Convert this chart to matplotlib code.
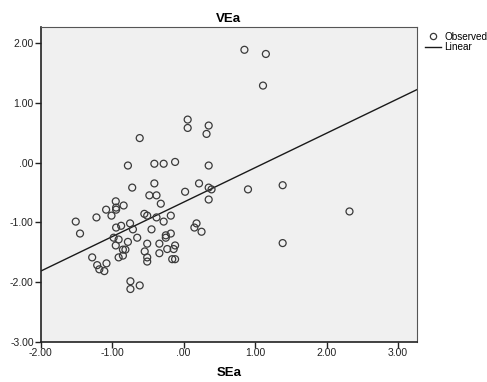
import numpy as np
import matplotlib
matplotlib.use('Agg')
import matplotlib.pyplot as plt
from matplotlib.lines import Line2D

# observed points (SEa, VEa)
sea = [0.85, 1.15, 1.11, -0.615, 0.056, 0.056, 0.35, 0.32,
       -0.78, -0.41, -0.28, -0.12, 0.35, -0.72, -0.41, 0.215,
       -0.48, -0.38, 0.02, 0.35, 0.39, 0.90, 1.385, 2.32, 1.385,
       -0.32, 0.35, -1.51, -1.45, -1.22, -1.085, -1.01, -0.95,
       -0.945, -0.945, -0.84, -0.945, -0.875, -0.98, -0.95, -0.91,
       -0.91, -0.85, -0.815, -0.85, -0.78, -0.75, -0.71, -0.65,
       -0.745, -0.745, -0.615, -1.28, -1.21, -1.18, -1.11, -1.08,
       -0.55, -0.51, -0.38, -0.28, -0.18, -0.45, -0.51, -0.545,
       -0.51, -0.51, -0.34, -0.34, -0.25, -0.25, -0.18, -0.23,
       -0.14, -0.12, -0.16, -0.12, 0.18, 0.15, 0.25]
vea = [1.89, 1.82, 1.29, 0.41, 0.72, 0.58, 0.62, 0.48,
       -0.05, -0.02, -0.02, 0.01, -0.05, -0.42, -0.35, -0.35,
       -0.55, -0.55, -0.49, -0.42, -0.45, -0.45, -0.38, -0.82, -1.35,
       -0.69, -0.62, -0.99, -1.19, -0.92, -0.79, -0.89, -0.65,
       -0.755, -0.79, -0.72, -1.09, -1.06, -1.26, -1.39, -1.29,
       -1.59, -1.56, -1.46, -1.46, -1.33, -1.02, -1.12, -1.26,
       -1.99, -2.12, -2.06, -1.59, -1.72, -1.79, -1.82, -1.69,
       -0.86, -0.89, -0.92, -0.99, -0.89, -1.12, -1.36, -1.49,
       -1.59, -1.66, -1.36, -1.52, -1.22, -1.26, -1.19, -1.45,
       -1.45, -1.39, -1.62, -1.62, -1.02, -1.09, -1.16]

# linear fit shown in the reference
fit_slope = 0.578
fit_intercept = -0.664

xticks = [-2, -1, 0, 1, 2, 3]
yticks = [-3, -2, -1, 0, 1, 2]


def fmt(v):
    s = "%.2f" % v
    if s.startswith("0."):
        s = s[1:]
    elif s.startswith("-0."):
        s = "-" + s[2:]
    return s


plt.rcParams['font.family'] = ['Liberation Sans', 'DejaVu Sans']

fig = plt.figure(figsize=(4.87, 3.82), dpi=100)
ax = fig.add_axes([0.0836, 0.106, 0.772, 0.823])
ax.set_facecolor('#f0f0f0')

ax.scatter(sea, vea, s=25, facecolors='none', edgecolors='#3a3a3a',
           linewidths=0.9, zorder=3)

xlim = (-2.0, 3.26)
xs = np.array(xlim)
ax.plot(xs, fit_slope*xs + fit_intercept, color='#1a1a1a', lw=1.0,
        zorder=2)

ax.set_xlim(*xlim)
ax.set_ylim(-3.0, 2.27)
ax.set_xticks(xticks)
ax.set_yticks(yticks)
ax.set_xticklabels([fmt(v) for v in xticks], fontsize=7.5)
ax.set_yticklabels([fmt(v) for v in yticks], fontsize=7.5)
ax.tick_params(direction='out', length=4, width=1, pad=1, colors='#222222')

for side in ['left', 'bottom']:
    ax.spines[side].set_color('#222222')
    ax.spines[side].set_linewidth(1.2)
for side in ['top', 'right']:
    ax.spines[side].set_color('#555555')
    ax.spines[side].set_linewidth(0.8)

ax.set_title('VEa', fontsize=9.5, fontweight='bold', pad=4)
ax.set_xlabel('SEa', fontsize=9.5, fontweight='bold', labelpad=6)

handles = [Line2D([], [], marker='o', ls='none', mfc='none', mec='#3a3a3a',
                  ms=4.5, mew=0.9),
           Line2D([], [], color='#1a1a1a', lw=1.0)]
fig.legend(handles, ['Observed', 'Linear'], loc='upper left',
           bbox_to_anchor=(0.863, 0.93), frameon=False, fontsize=7.2,
           handlelength=1.6, handletextpad=0.3, labelspacing=0.05,
           borderpad=0)

fig.savefig('out.png', dpi=100)
